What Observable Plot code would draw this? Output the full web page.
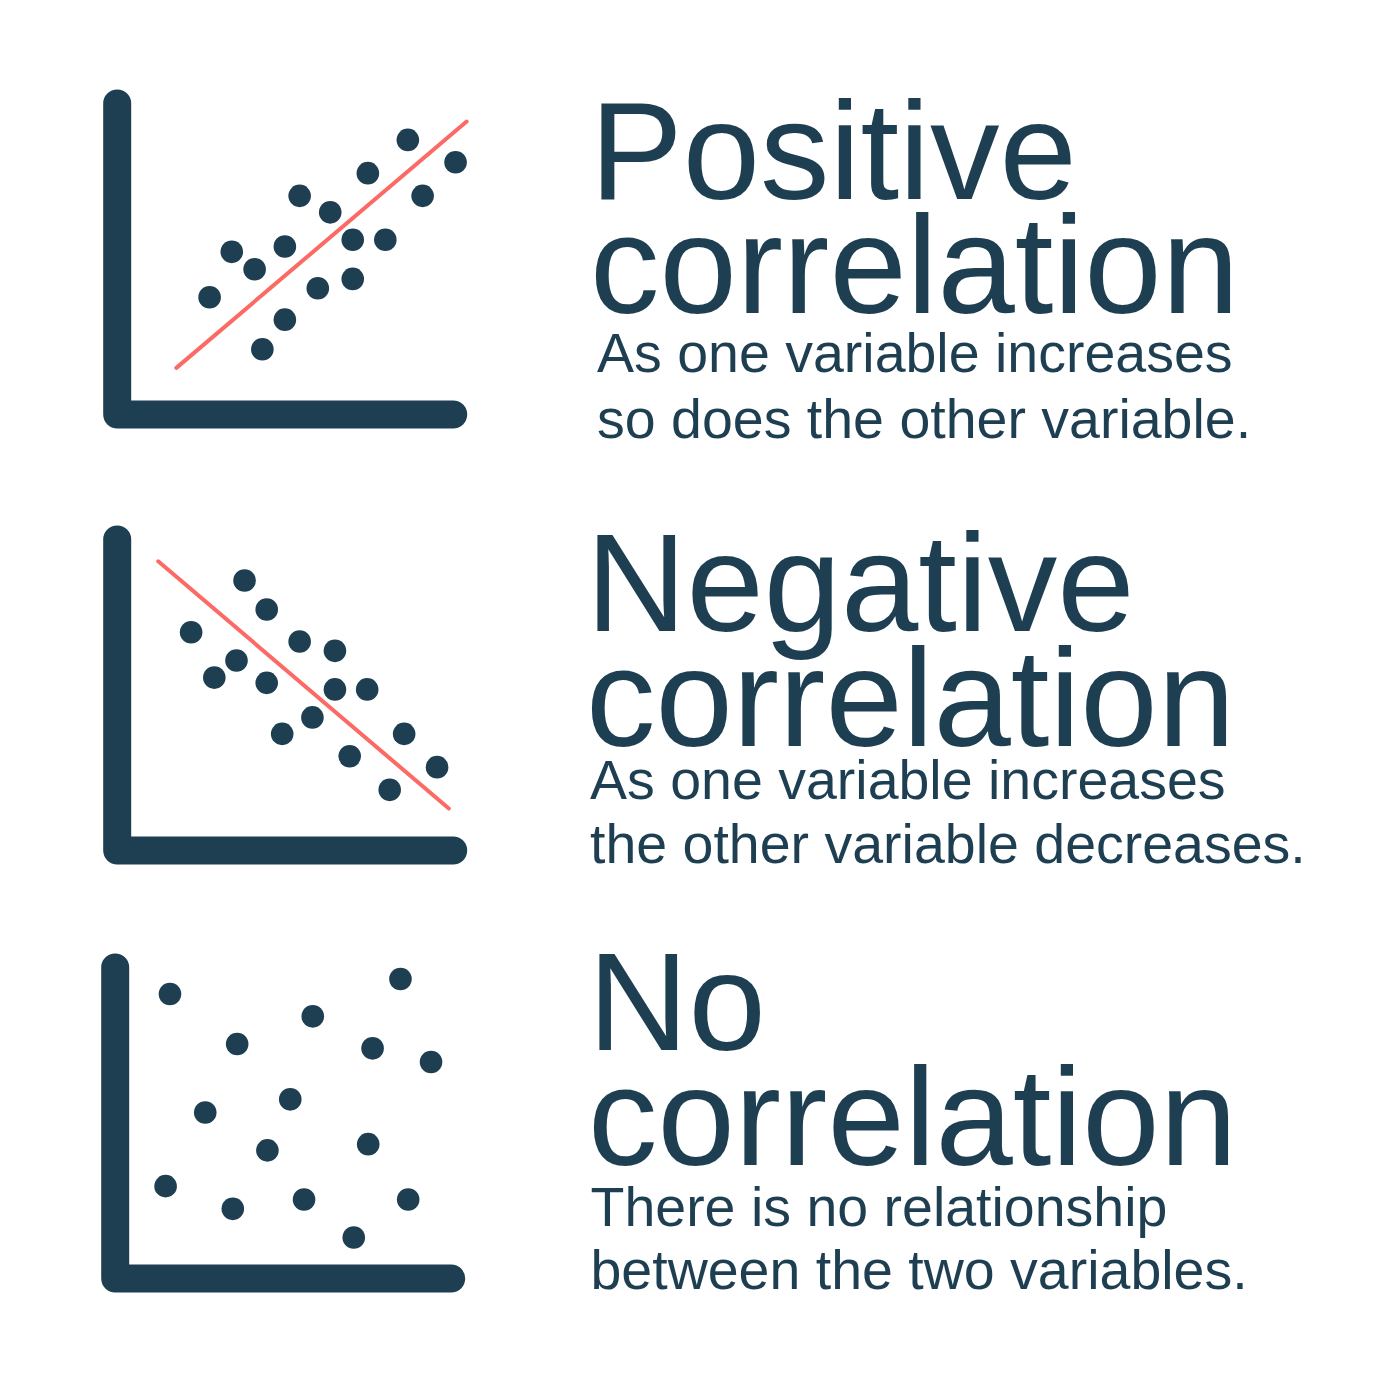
<!DOCTYPE html>
<html>
<head>
<meta charset="utf-8">
<script src="https://cdn.jsdelivr.net/npm/d3@7"></script>
<script src="https://cdn.jsdelivr.net/npm/@observablehq/plot@0.6"></script>
<style>
  html, body { margin: 0; padding: 0; background: #fff; }
  #page { position: relative; width: 1389px; height: 1389px; background: #fff; overflow: hidden; }
  .panel { position: absolute; left: 0; }
  #texts { position: absolute; left: 0; top: 0; }
</style>
</head>
<body>
<div id="page"></div>
<script>
// ---- Data (abstract units: both axes 0..100) ----
const positiveX = [27.5, 34.1, 40.9, 49.9, 54.3, 63.4, 49.9, 43.2, 59.7, 70.1, 70.1, 79.8, 74.6, 86.5, 90.9, 100.7];
const positiveY = [37.7, 52.3, 46.7, 54.0, 70.3, 65.0, 30.5, 21.0, 40.6, 56.2, 43.6, 56.2, 77.6, 88.3, 70.3, 81.1];
const positiveTrendX = [17.6, 104.0];
const positiveTrendY = [15.0, 94.2];

const negativeX = [37.9, 44.5, 22.0, 35.5, 28.9, 44.5, 54.3, 64.8, 64.8, 74.4, 58.1, 49.1, 69.2, 85.4, 81.1, 95.2];
const negativeY = [86.8, 77.5, 70.2, 61.1, 55.6, 53.9, 67.2, 64.2, 51.8, 51.8, 42.8, 37.5, 30.3, 37.5, 19.5, 26.8];
const negativeTrendX = [12.2, 98.7];
const negativeTrendY = [93.0, 13.5];

const noneX = [16.3, 36.3, 58.8, 84.9, 76.6, 94.0, 26.8, 52.1, 45.3, 75.3, 15.0, 35.0, 56.2, 87.2, 71.0];
const noneY = [91.5, 75.4, 84.3, 96.3, 74.0, 69.6, 53.4, 57.6, 41.2, 43.2, 29.7, 22.4, 25.4, 25.4, 13.2];

const axisCornerX = [0, 0, 100];
const axisCornerY = [100, 0, 0];

const titles = [["Positive", "correlation"], ["Negative", "correlation"], ["No", "correlation"]];
const subtitles = [
  ["As one variable increases", "so does the other variable."],
  ["As one variable increases", "the other variable decreases."],
  ["There is no relationship", "between the two variables."]
];

// ---- Styles / layout ----
const NAVY = "#1e3e52";
const RED = "#fb6a64";
const FONT = "'Liberation Sans', Arial, Helvetica, sans-serif";

const panels = [
  {xs: positiveX, ys: positiveY, tx: positiveTrendX, ty: positiveTrendY, top: 0, left: 0},
  {xs: negativeX, ys: negativeY, tx: negativeTrendX, ty: negativeTrendY, top: 436, left: 0},
  {xs: noneX, ys: noneY, tx: null, ty: null, top: 864, left: -2.5}
];

const page = document.getElementById("page");
const axisData = axisCornerX.map((x, i) => ({x, y: axisCornerY[i]}));

panels.forEach(p => {
  const dots = p.xs.map((x, i) => ({x, y: p.ys[i]}));
  const marks = [
    Plot.line(axisData, {x: "x", y: "y", stroke: NAVY, strokeWidth: 28, strokeLinecap: "round", strokeLinejoin: "round"})
  ];
  if (p.tx) {
    const trend = p.tx.map((x, i) => ({x, y: p.ty[i]}));
    marks.push(Plot.line(trend, {x: "x", y: "y", stroke: RED, strokeWidth: 4}));
  }
  marks.push(Plot.dot(dots, {x: "x", y: "y", r: 11.3, fill: NAVY, stroke: "none"}));
  const chart = Plot.plot({
    width: 560,
    height: 460,
    margin: 0,
    x: {domain: [0, 100], range: [116.7, 452.7], axis: null},
    y: {domain: [0, 100], range: [414, 103], axis: null},
    style: {background: "transparent", overflow: "visible"},
    marks
  });
  chart.classList.add("panel");
  chart.style.top = p.top + "px";
  chart.style.left = p.left + "px";
  page.appendChild(chart);
});

// ---- Text ----
const textLayout = [
  {tx: 590, tb: [199, 312.7], sx: 597, sb: [371.7, 438.3]},
  {tx: 586, tb: [631, 746], sx: 590, sb: [799.3, 863.3]},
  {tx: 588, tb: [1050, 1165], sx: 590.5, sb: [1226, 1289]}
];
const svg = d3.select(page).append("svg")
  .attr("id", "texts")
  .attr("width", 1389).attr("height", 1389)
  .style("font-family", FONT);
textLayout.forEach((L, i) => {
  titles[i].forEach((t, j) => {
    svg.append("text").attr("x", L.tx).attr("y", L.tb[j])
      .attr("fill", NAVY).attr("font-size", 139).text(t);
  });
  subtitles[i].forEach((t, j) => {
    svg.append("text").attr("x", L.sx).attr("y", L.sb[j])
      .attr("fill", NAVY).attr("font-size", 55.5).text(t);
  });
});
</script>
</body>
</html>
